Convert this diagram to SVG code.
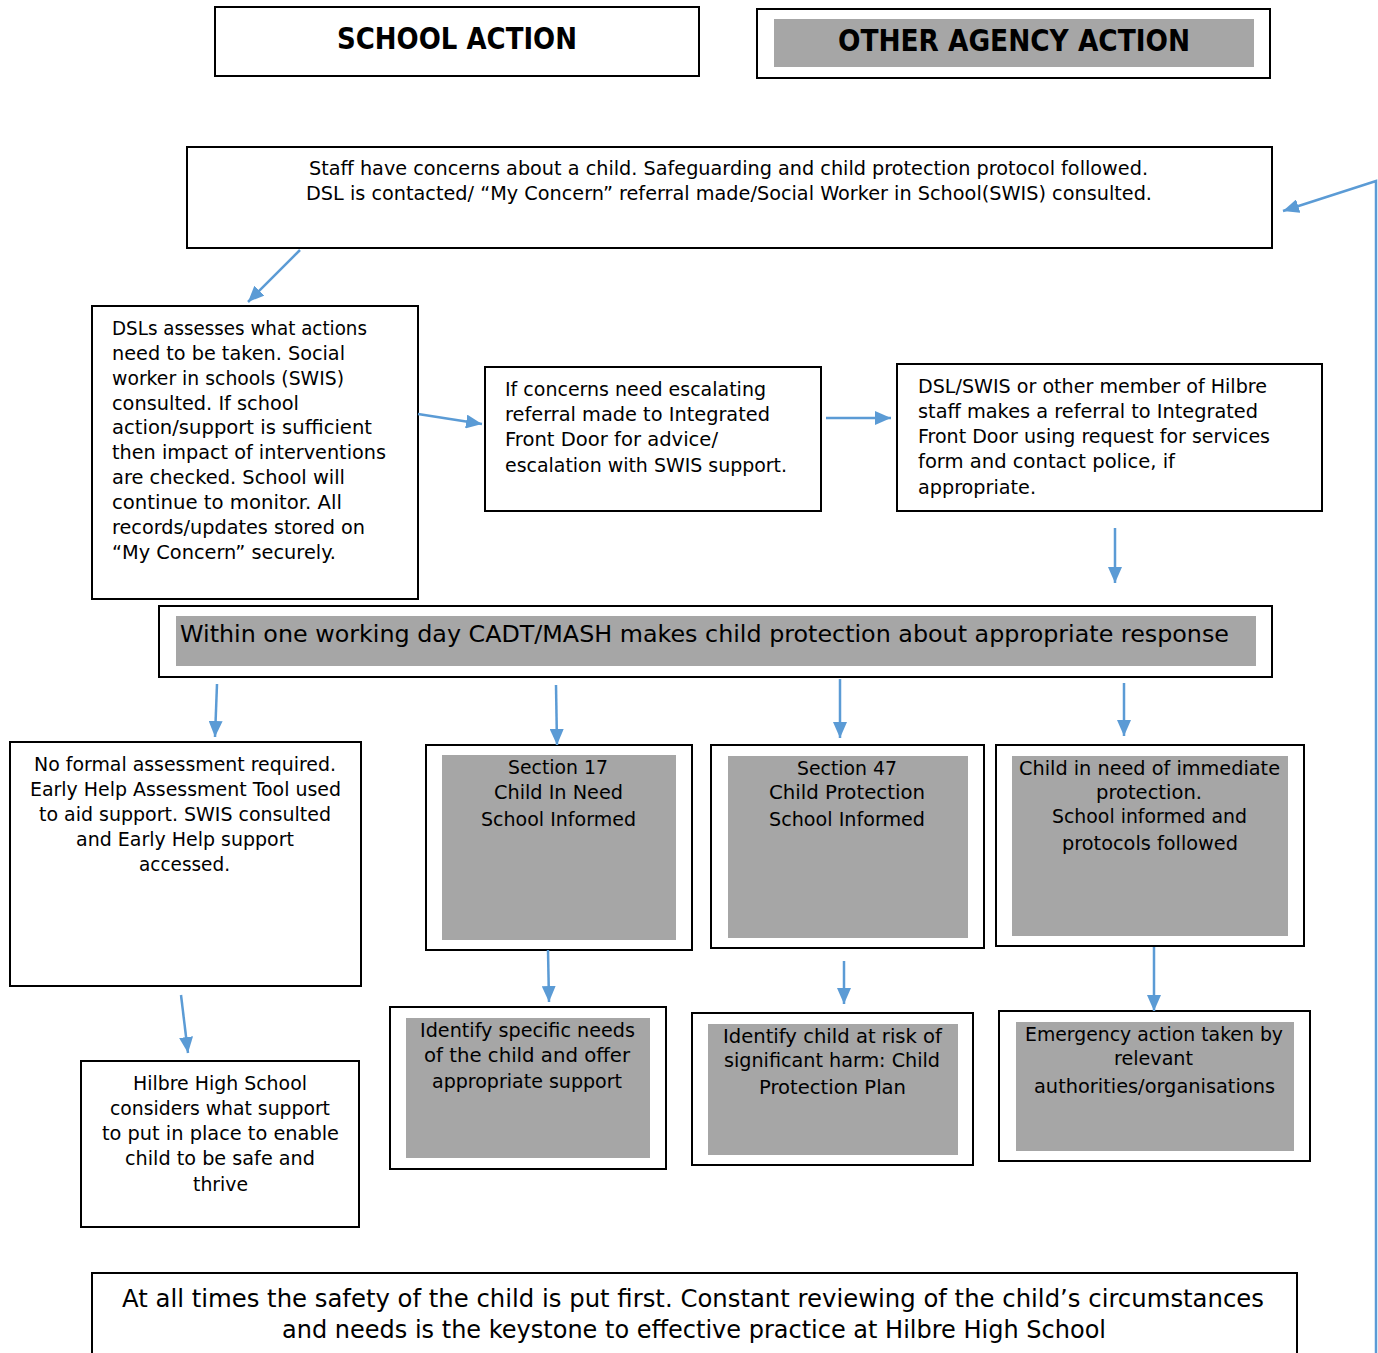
<svg xmlns="http://www.w3.org/2000/svg" width="1378" height="1353" viewBox="0 0 1378 1353">
<style>
.box{fill:#fff;stroke:#000;stroke-width:2}
.gray{fill:#a6a6a6;stroke:none}
text{font-family:"DejaVu Sans","Liberation Sans",sans-serif;fill:#000;font-size:20px}
.hd{font-size:31px;font-weight:bold}
.big{font-size:23px}
.bot{font-size:25px}
.con{fill:none;stroke:#5b9bd5;stroke-width:2.5}
</style>
<defs>
<marker id="ah" viewBox="0 0 16 14" refX="16" refY="7" markerWidth="16" markerHeight="14" markerUnits="userSpaceOnUse" orient="auto">
<path d="M0,0 L16,7 L0,14 z" fill="#5b9bd5"/>
</marker>
</defs>
<rect width="1378" height="1353" fill="#fff"/>

<g id="school-action">
<rect class="box" x="215" y="7" width="484" height="69"/>
<text class="hd" x="337" y="49" textLength="240" lengthAdjust="spacingAndGlyphs">SCHOOL ACTION</text>
</g>
<g id="other-agency-action">
<rect class="box" x="757" y="9" width="513" height="69"/>
<rect class="gray" x="774" y="19" width="480" height="48"/>
<text class="hd" x="838" y="51" textLength="352" lengthAdjust="spacingAndGlyphs">OTHER AGENCY ACTION</text>
</g>

<g id="staff-concerns">
<rect class="box" x="187" y="147" width="1085" height="101"/>
<text x="309" y="175" textLength="839" lengthAdjust="spacingAndGlyphs">Staff have concerns about a child. Safeguarding and child protection protocol followed.</text>
<text x="306" y="200" textLength="846" lengthAdjust="spacingAndGlyphs">DSL is contacted/ “My Concern” referral made/Social Worker in School(SWIS) consulted.</text>
</g>

<g id="dsl-assesses">
<rect class="box" x="92" y="306" width="326" height="293"/>
<text x="112" y="335" textLength="255" lengthAdjust="spacingAndGlyphs">DSLs assesses what actions</text>
<text x="112" y="360" textLength="233" lengthAdjust="spacingAndGlyphs">need to be taken. Social</text>
<text x="112" y="385" textLength="232" lengthAdjust="spacingAndGlyphs">worker in schools (SWIS)</text>
<text x="112" y="410" textLength="187" lengthAdjust="spacingAndGlyphs">consulted. If school</text>
<text x="112" y="434" textLength="260" lengthAdjust="spacingAndGlyphs">action/support is sufficient</text>
<text x="112" y="459" textLength="274" lengthAdjust="spacingAndGlyphs">then impact of interventions</text>
<text x="112" y="484" textLength="233" lengthAdjust="spacingAndGlyphs">are checked. School will</text>
<text x="112" y="509" textLength="230" lengthAdjust="spacingAndGlyphs">continue to monitor. All</text>
<text x="112" y="534" textLength="253" lengthAdjust="spacingAndGlyphs">records/updates stored on</text>
<text x="112" y="559" textLength="224" lengthAdjust="spacingAndGlyphs">“My Concern” securely.</text>
</g>

<g id="escalating">
<rect class="box" x="485" y="367" width="336" height="144"/>
<text x="505" y="396" textLength="261" lengthAdjust="spacingAndGlyphs">If concerns need escalating</text>
<text x="505" y="421" textLength="265" lengthAdjust="spacingAndGlyphs">referral made to Integrated</text>
<text x="505" y="446" textLength="213" lengthAdjust="spacingAndGlyphs">Front Door for advice/</text>
<text x="505" y="472" textLength="282" lengthAdjust="spacingAndGlyphs">escalation with SWIS support.</text>
</g>

<g id="referral">
<rect class="box" x="897" y="364" width="425" height="147"/>
<text x="918" y="393" textLength="349" lengthAdjust="spacingAndGlyphs">DSL/SWIS or other member of Hilbre</text>
<text x="918" y="418" textLength="340" lengthAdjust="spacingAndGlyphs">staff makes a referral to Integrated</text>
<text x="918" y="443" textLength="352" lengthAdjust="spacingAndGlyphs">Front Door using request for services</text>
<text x="918" y="468" textLength="257" lengthAdjust="spacingAndGlyphs">form and contact police, if</text>
<text x="918" y="494" textLength="118" lengthAdjust="spacingAndGlyphs">appropriate.</text>
</g>

<g id="cadt-mash">
<rect class="box" x="159" y="606" width="1113" height="71"/>
<rect class="gray" x="176" y="616" width="1080" height="50"/>
<text class="big" x="180" y="642" textLength="1049" lengthAdjust="spacingAndGlyphs">Within one working day CADT/MASH makes child protection about appropriate response</text>
</g>

<g id="no-formal">
<rect class="box" x="10" y="742" width="351" height="244"/>
<text x="34" y="771" textLength="302" lengthAdjust="spacingAndGlyphs">No formal assessment required.</text>
<text x="30" y="796" textLength="311" lengthAdjust="spacingAndGlyphs">Early Help Assessment Tool used</text>
<text x="39" y="821" textLength="292" lengthAdjust="spacingAndGlyphs">to aid support. SWIS consulted</text>
<text x="76" y="846" textLength="218" lengthAdjust="spacingAndGlyphs">and Early Help support</text>
<text x="139" y="871" textLength="91" lengthAdjust="spacingAndGlyphs">accessed.</text>
</g>

<g id="hilbre-considers">
<rect class="box" x="81" y="1061" width="278" height="166"/>
<text x="133" y="1090" textLength="174" lengthAdjust="spacingAndGlyphs">Hilbre High School</text>
<text x="110" y="1115" textLength="220" lengthAdjust="spacingAndGlyphs">considers what support</text>
<text x="102" y="1140" textLength="237" lengthAdjust="spacingAndGlyphs">to put in place to enable</text>
<text x="125" y="1165" textLength="190" lengthAdjust="spacingAndGlyphs">child to be safe and</text>
<text x="193" y="1191" textLength="55" lengthAdjust="spacingAndGlyphs">thrive</text>
</g>

<g id="section-17">
<rect class="box" x="426" y="745" width="266" height="205"/>
<rect class="gray" x="442" y="755" width="234" height="185"/>
<text x="508" y="774" textLength="100" lengthAdjust="spacingAndGlyphs">Section 17</text>
<text x="494" y="799" textLength="129" lengthAdjust="spacingAndGlyphs">Child In Need</text>
<text x="481" y="826" textLength="155" lengthAdjust="spacingAndGlyphs">School Informed</text>
</g>

<g id="section-47">
<rect class="box" x="711" y="745" width="273" height="203"/>
<rect class="gray" x="728" y="756" width="240" height="182"/>
<text x="797" y="775" textLength="100" lengthAdjust="spacingAndGlyphs">Section 47</text>
<text x="769" y="799" textLength="156" lengthAdjust="spacingAndGlyphs">Child Protection</text>
<text x="769" y="826" textLength="156" lengthAdjust="spacingAndGlyphs">School Informed</text>
</g>

<g id="immediate-protection">
<rect class="box" x="996" y="745" width="308" height="201"/>
<rect class="gray" x="1012" y="756" width="276" height="180"/>
<text x="1019" y="775" textLength="261" lengthAdjust="spacingAndGlyphs">Child in need of immediate</text>
<text x="1096" y="799" textLength="106" lengthAdjust="spacingAndGlyphs">protection.</text>
<text x="1052" y="823" textLength="195" lengthAdjust="spacingAndGlyphs">School informed and</text>
<text x="1062" y="850" textLength="176" lengthAdjust="spacingAndGlyphs">protocols followed</text>
</g>

<g id="specific-needs">
<rect class="box" x="390" y="1007" width="276" height="162"/>
<rect class="gray" x="406" y="1018" width="244" height="140"/>
<text x="420" y="1037" textLength="215" lengthAdjust="spacingAndGlyphs">Identify specific needs</text>
<text x="424" y="1062" textLength="206" lengthAdjust="spacingAndGlyphs">of the child and offer</text>
<text x="432" y="1088" textLength="190" lengthAdjust="spacingAndGlyphs">appropriate support</text>
</g>

<g id="risk-of-harm">
<rect class="box" x="692" y="1013" width="281" height="152"/>
<rect class="gray" x="708" y="1024" width="250" height="131"/>
<text x="723" y="1043" textLength="219" lengthAdjust="spacingAndGlyphs">Identify child at risk of</text>
<text x="724" y="1067" textLength="216" lengthAdjust="spacingAndGlyphs">significant harm: Child</text>
<text x="759" y="1094" textLength="147" lengthAdjust="spacingAndGlyphs">Protection Plan</text>
</g>

<g id="emergency-action">
<rect class="box" x="999" y="1011" width="311" height="150"/>
<rect class="gray" x="1016" y="1022" width="278" height="129"/>
<text x="1025" y="1041" textLength="258" lengthAdjust="spacingAndGlyphs">Emergency action taken by</text>
<text x="1114" y="1065" textLength="79" lengthAdjust="spacingAndGlyphs">relevant</text>
<text x="1034" y="1093" textLength="241" lengthAdjust="spacingAndGlyphs">authorities/organisations</text>
</g>

<g id="safety-first">
<rect class="box" x="92" y="1273" width="1205" height="100"/>
<text class="bot" x="122" y="1307" textLength="1142" lengthAdjust="spacingAndGlyphs">At all times the safety of the child is put first.  Constant reviewing of the child’s circumstances</text>
<text class="bot" x="282" y="1338" textLength="824" lengthAdjust="spacingAndGlyphs">and needs is the keystone to effective practice at Hilbre High School</text>
</g>

<g id="connectors">
<line class="con" x1="300" y1="250" x2="248" y2="302" marker-end="url(#ah)"/>
<line class="con" x1="418" y1="414" x2="482" y2="424" marker-end="url(#ah)"/>
<line class="con" x1="826" y1="418" x2="891" y2="418" marker-end="url(#ah)"/>
<line class="con" x1="1115" y1="528" x2="1115" y2="583" marker-end="url(#ah)"/>
<line class="con" x1="217" y1="684" x2="215" y2="737" marker-end="url(#ah)"/>
<line class="con" x1="556" y1="685" x2="557" y2="745" marker-end="url(#ah)"/>
<line class="con" x1="840" y1="679" x2="840" y2="738" marker-end="url(#ah)"/>
<line class="con" x1="1124" y1="683" x2="1124" y2="736" marker-end="url(#ah)"/>
<line class="con" x1="181" y1="995" x2="188" y2="1053" marker-end="url(#ah)"/>
<line class="con" x1="548" y1="950" x2="549" y2="1002" marker-end="url(#ah)"/>
<line class="con" x1="844" y1="961" x2="844" y2="1004" marker-end="url(#ah)"/>
<line class="con" x1="1154" y1="947" x2="1154" y2="1011" marker-end="url(#ah)"/>
<polyline class="con" points="1376,1353 1376,181 1283,211" marker-end="url(#ah)"/>
</g>
</svg>
